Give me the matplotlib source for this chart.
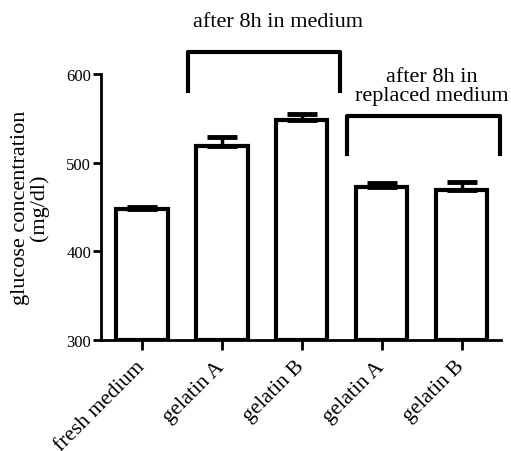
import matplotlib.pyplot as plt

plt.rcParams['font.family'] = ['Liberation Serif', 'DejaVu Serif']

categories = ['fresh medium', 'gelatin A', 'gelatin B', 'gelatin A', 'gelatin B']
glucose = [448, 519, 548, 473, 469]
err_up = [2, 10, 7, 4, 9]

fig = plt.figure(figsize=(5.11, 4.52), dpi=100)
ax = fig.add_axes([0.1977, 0.2456, 0.7827, 0.5885])

x = list(range(len(categories)))
ax.bar(x, [g - 300 for g in glucose], bottom=300, width=0.64,
       color='white', edgecolor='black', linewidth=3, zorder=2)
ax.errorbar(x, glucose, yerr=[[0] * 5, err_up], fmt='none', ecolor='black',
            elinewidth=2.5, capsize=11, capthick=3.5, zorder=3)

ax.set_xlim(-0.5125, 4.49)
ax.set_ylim(300, 600)
ax.set_yticks([300, 400, 500, 600])
ax.set_xticks(x)
ax.set_xticklabels(categories, rotation=45, ha='right', va='center',
                   rotation_mode='anchor', fontsize=15.5)
ax.tick_params(axis='y', labelsize=12, width=2, length=6, pad=1)
ax.tick_params(axis='x', width=2, length=7, pad=10)
for s in ['top', 'right']:
    ax.spines[s].set_visible(False)
for s in ['left', 'bottom']:
    ax.spines[s].set_linewidth(2)

# group brackets
ax.plot([0.575, 0.575, 2.475, 2.475], [581, 625, 625, 581], color='black', lw=3, clip_on=False)
ax.plot([2.56, 2.56, 4.475, 4.475], [510, 553, 553, 510], color='black', lw=3, clip_on=False)
ax.text(1.7, 659, 'after 8h in medium', ha='center', va='center', fontsize=16)
ax.text(3.63, 586, 'after 8h in\nreplaced medium', ha='center', va='center',
        fontsize=16, linespacing=1.0)

fig.text(30 / 511, 1 - 208 / 452, 'glucose concentration\n(mg/dl)', rotation=90,
         ha='center', va='center', fontsize=16, linespacing=1.0)

fig.savefig('out.png', dpi=100)
